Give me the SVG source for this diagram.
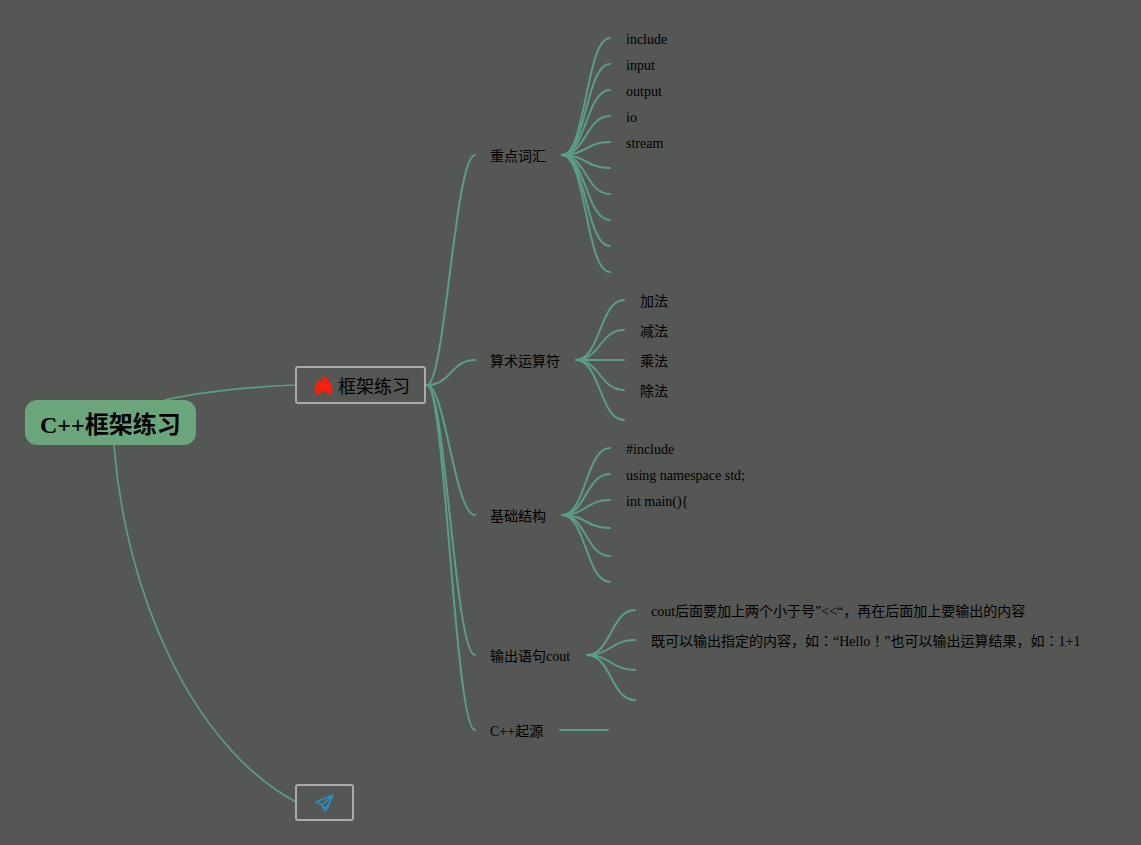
<svg xmlns="http://www.w3.org/2000/svg" width="1141" height="845" viewBox="0 0 1141 845">
<style>
text{font-family:"Liberation Serif","Noto Sans CJK JP",serif;fill:#000;font-size:14px}
.c path{fill:none;stroke:#5a9e89;stroke-width:2;stroke-linecap:round}
.c path.thin{stroke-width:1.7}
.box{fill:none;stroke:#a9aba8;stroke-width:2}
.big{font-size:18px}
.root{font-size:24px;font-weight:bold}
</style>
<rect width="1141" height="845" fill="#555754"/>
<g class="c" id="connectors">
<path class="thin" d="M165 400C205 391 250 387 296 385"/>
<path class="thin" d="M114 445C125 590 190 745 296 802"/>
<path d="M427 385C445 385 455 155 475 155"/>
<path d="M427 385C451 385 451 360 475 360"/>
<path d="M427 385C445 385 455 515 475 515"/>
<path d="M427 385C445 385 455 655 475 655"/>
<path d="M427 385C445 385 455 730 475 730"/>
<path d="M562 155C586 155 586 38 610 38"/>
<path d="M562 155C586 155 586 64 610 64"/>
<path d="M562 155C586 155 586 90 610 90"/>
<path d="M562 155C586 155 586 116 610 116"/>
<path d="M562 155C586 155 586 142 610 142"/>
<path d="M562 155C586 155 586 168 610 168"/>
<path d="M562 155C586 155 586 194 610 194"/>
<path d="M562 155C586 155 586 220 610 220"/>
<path d="M562 155C586 155 586 246 610 246"/>
<path d="M562 155C586 155 586 272 610 272"/>
<path d="M576 360C600 360 600 300 624 300"/>
<path d="M576 360C600 360 600 330 624 330"/>
<path d="M576 360H624"/>
<path d="M576 360C600 360 600 390 624 390"/>
<path d="M576 360C600 360 600 420 624 420"/>
<path d="M562 515C586 515 586 448 610 448"/>
<path d="M562 515C586 515 586 474 610 474"/>
<path d="M562 515C586 515 586 500 610 500"/>
<path d="M562 515C586 515 586 528 610 528"/>
<path d="M562 515C586 515 586 556 610 556"/>
<path d="M562 515C586 515 586 582 610 582"/>
<path d="M587 655C611 655 611 610 635 610"/>
<path d="M587 655C611 655 611 640 635 640"/>
<path d="M587 655C611 655 611 670 635 670"/>
<path d="M587 655C611 655 611 700 635 700"/>
<path d="M560 730H608"/>
</g>
<g id="root"><rect x="25" y="400" width="171" height="45" rx="12" fill="#6aa57c"/><text class="root" x="40" y="433">C++框架练习</text></g>
<g id="main"><rect class="box" x="296" y="367" width="129" height="36" rx="2"/>
<path d="M324 375C325 379 332 382 332 389C332 392 331 394 329 395C328 393 326 391 324 391C322 391 320 393 319 395C317 394 315 392 315 388C315 385 318 383 319 380C320 381 321 382 321 383C322 381 323 378 324 375Z" fill="#f5200d" stroke="#f5200d"/>
<text class="big" x="338" y="393">框架练习</text></g>
<g id="plane"><rect class="box" x="296" y="785" width="57" height="35" rx="2"/>
<path d="M333 795L316 802L322 805L325 811L333 795L327 809L322 805Z" fill="none" stroke="#2a8fc0" stroke-width="1.6" stroke-linejoin="round"/></g>
<g id="n1"><text x="490" y="161">重点词汇</text></g>
<g id="n1a"><text x="626" y="44">include</text></g>
<g id="n1b"><text x="626" y="70">input</text></g>
<g id="n1c"><text x="626" y="96">output</text></g>
<g id="n1d"><text x="626" y="122">io</text></g>
<g id="n1e"><text x="626" y="148">stream</text></g>
<g id="n2"><text x="490" y="366">算术运算符</text></g>
<g id="n2a"><text x="640" y="306">加法</text></g>
<g id="n2b"><text x="640" y="336">减法</text></g>
<g id="n2c"><text x="640" y="366">乘法</text></g>
<g id="n2d"><text x="640" y="396">除法</text></g>
<g id="n3"><text x="490" y="521">基础结构</text></g>
<g id="n3a"><text x="626" y="454">#include</text></g>
<g id="n3b"><text x="626" y="480">using namespace std;</text></g>
<g id="n3c"><text x="626" y="506">int main(){</text></g>
<g id="n4"><text x="490" y="661">输出语句cout</text></g>
<g id="n4a"><text x="651" y="616">cout后面要加上两个小于号”&lt;&lt;“，再在后面加上要输出的内容</text></g>
<g id="n4b"><text x="651" y="646">既可以输出指定的内容，如：“Hello！”也可以输出运算结果，如：1+1</text></g>
<g id="n5"><text x="490" y="736">C++起源</text></g>
</svg>
